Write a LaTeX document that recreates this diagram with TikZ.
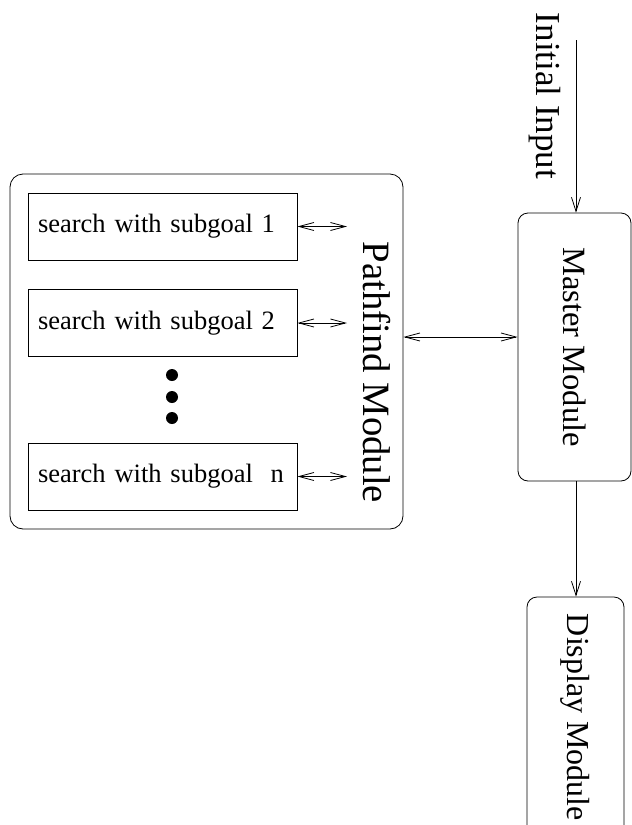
\documentclass[tikz,border=0pt]{standalone}
\usepackage{fontspec}
\setmainfont{Liberation Serif}
\usepackage{graphicx}
\usetikzlibrary{arrows.meta,positioning}

\begin{document}
\begin{tikzpicture}[x=1pt,y=-1pt,line width=0.8pt,
    link/.style={-{Straight Barb[length=14pt,width=9pt]}},
    dbl/.style={{Straight Barb[length=15pt,width=8pt]}-{Straight Barb[length=15pt,width=8pt]}},
    module/.style={draw,rounded corners=10pt,inner sep=0pt},
    searchbox/.style={draw,minimum width=269pt,minimum height=67pt,
      inner xsep=10pt,inner ysep=0pt,text width=249pt,align=left,
      font=\fontsize{26.5}{30}\selectfont}]
    \useasboundingbox (0,0) rectangle (632,825);

    % pathfind module with its searches
    \node[module,rounded corners=13pt,
      minimum width=393pt,minimum height=355pt] (pathfind) at (206.5,351.5) {};
    \node[font=\fontsize{38.7}{42}\selectfont] (pathlabel) at (377,372.5)
      {\rotatebox{-90}{Pathfind Module}};

    \node[searchbox] (s1) at (162.5,226.5) {search with subgoal 1};
    \node[searchbox] (s2) at (162.5,323) {search with subgoal 2};
    \node[searchbox] (sn) at (162.5,476.5) {search with subgoal~\ n};

    \foreach \y in {375,397,418}
      \fill (172,\y) circle (6pt);

    \coordinate (tip) at (347,0);
    \foreach \b in {s1,s2,sn}
      \draw[dbl] (\b.east) -- (\b.east -| tip);

    % master and display
    \node[module,minimum width=113pt,minimum height=268pt,
      font=\fontsize{32.5}{36}\selectfont] (master) at (574.5,347)
      {\rotatebox{-90}{Master Module}};
    \node[module,minimum width=97pt,minimum height=241pt,
      font=\fontsize{32}{36}\selectfont] (display) at (575.5,717.5)
      {\rotatebox{-90}{Display Module}};

    \node[font=\fontsize{35}{38}\selectfont] (input) at (545,96)
      {\rotatebox{-90}{Initial Input}};

    \coordinate (in) at (576,40);
    \coordinate (mid) at (460,337);
    \draw[link] (in) -- (in |- master.north);
    \draw[link] (in |- master.south) -- (in |- display.north);
    \draw[dbl] (pathfind.east |- mid) -- (master.west |- mid);
\end{tikzpicture}
\end{document}
